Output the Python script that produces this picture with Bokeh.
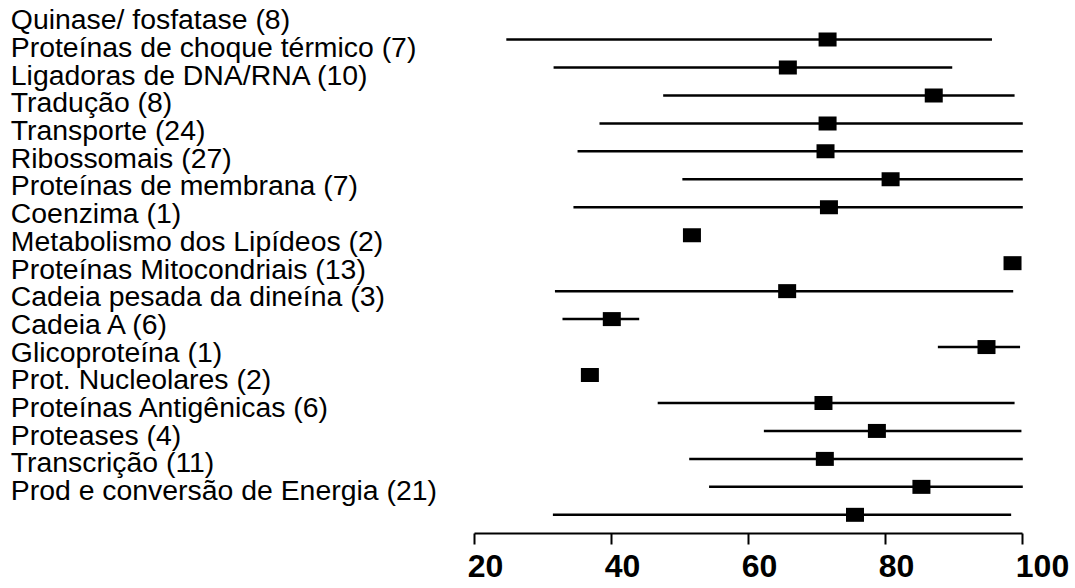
from bokeh.plotting import figure
from bokeh.models import Range1d, LinearAxis, FixedTicker
from bokeh.core.properties import value
from bokeh.embed import file_html
from bokeh.resources import INLINE

# ---------------- data ----------------
categories = [
    "Quinase/ fosfatase (8)",
    "Proteínas de choque térmico (7)",
    "Ligadoras de DNA/RNA (10)",
    "Tradução (8)",
    "Transporte (24)",
    "Ribossomais (27)",
    "Proteínas de membrana (7)",
    "Coenzima (1)",
    "Metabolismo dos Lipídeos (2)",
    "Proteínas Mitocondriais (13)",
    "Cadeia pesada da dineína (3)",
    "Cadeia A (6)",
    "Glicoproteína (1)",
    "Prot. Nucleolares (2)",
    "Proteínas Antigênicas (6)",
    "Proteases (4)",
    "Transcrição (11)",
    "Prod e conversão de Energia (21)",
]
mean_values = [71.5, 65.7, 87.0, 71.5, 71.2, 80.7, 71.7, 51.7, 98.5,
               65.6, 40.0, 94.7, 36.8, 70.9, 78.7, 71.1, 85.2, 75.5]
lower_values = [24.6, 31.5, 47.5, 38.2, 35.0, 50.3, 34.4, None, None,
                31.7, 32.8, 87.6, None, 46.7, 62.2, 51.3, 54.2, 31.4]
upper_values = [95.5, 89.7, 98.8, 100.0, 100.0, 100.0, 100.0, None, None,
                98.6, 44.0, 99.6, None, 98.8, 99.8, 100.0, 100.0, 98.3]
tick_values = [20, 40, 60, 80, 100]
tick_labels = ["20", "40", "60", "80", "100"]

# ---------------- layout constants ----------------
W, H = 1075, 588
PX_PER_UNIT = 6.85
X20_PX = 474.3
ROW0_PX = 39.0
ROW_STEP = 27.96
AXIS_PX = 532.7


def px_to_row(px):
    return (px - ROW0_PX) / ROW_STEP


x_start = 20 - X20_PX / PX_PER_UNIT
x_end = x_start + W / PX_PER_UNIT

p = figure(width=W, height=H, output_backend="svg", toolbar_location=None,
           x_range=Range1d(x_start, x_end),
           y_range=Range1d(px_to_row(H), px_to_row(0)),
           x_axis_location=None, y_axis_location=None, min_border=0)
p.outline_line_color = None
p.xgrid.visible = False
p.ygrid.visible = False
p.background_fill_color = "white"
p.border_fill_color = "white"

rows = list(range(len(categories)))

# interval lines
keep = [i for i in rows if lower_values[i] is not None]
p.segment(x0=[lower_values[i] for i in keep], x1=[upper_values[i] for i in keep],
          y0=keep, y1=keep, line_color="black", line_width=2.5)

# point estimates
p.rect(x=mean_values, y=rows, width=18, height=14,
       width_units="screen", height_units="screen",
       fill_color="black", line_color=None)

# category labels (left, offset upward as in the reference)
label_x = x_start + 10.3 / PX_PER_UNIT
label_y = [px_to_row(18.8 + 27.69 * i) for i in rows]
p.text(x=[label_x] * len(categories), y=label_y, text=categories,
       text_font=value("Liberation Sans"), text_font_size="28.4px",
       text_align="left", text_baseline="alphabetic", text_color="black")

# x axis (line + ticks), fixed inside the canvas
ax = LinearAxis(ticker=FixedTicker(ticks=tick_values), bounds=(20, 100),
                fixed_location=px_to_row(AXIS_PX))
ax.axis_line_width = 2
ax.axis_line_color = "black"
ax.major_tick_line_width = 2
ax.major_tick_line_color = "black"
ax.major_tick_in = 0
ax.major_tick_out = 11
ax.minor_tick_line_color = None
ax.major_label_text_font_size = "0px"
ax.major_label_overrides = {t: "" for t in tick_values}
p.add_layout(ax, "below")

# tick labels
p.text(x=tick_values, y=[px_to_row(565)] * len(tick_values), text=tick_labels,
       x_offset=-7, text_align="left", text_baseline="alphabetic",
       text_font=value("Liberation Sans"), text_font_style="bold",
       text_font_size="32px", text_color="black")

open("out.html", "w").write(file_html(p, INLINE))
